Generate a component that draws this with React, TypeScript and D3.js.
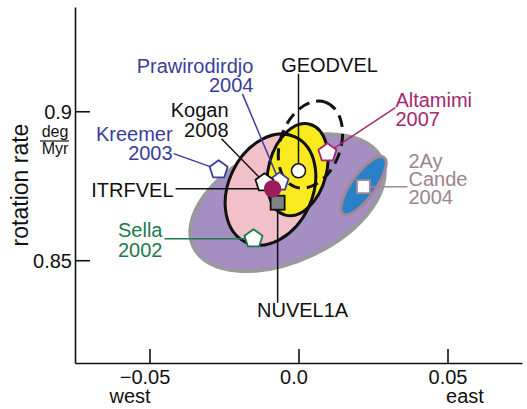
import React, { useEffect, useRef } from 'react';
import * as d3 from 'd3';

// error ellipses: centre (east rate, rotation rate), semi-axes, azimuth of major axis (deg ccw from east)
const ellipseNames = ['Sella 2002', 'Cande 2004', 'ITRFVEL', 'GEODVEL', 'Altamimi 2007'];
const ellipseX = [-0.0037, 0.0218, -0.0094, -0.0003, 0.0040];
const ellipseY = [0.8693, 0.8750, 0.8737, 0.8804, 0.8888];
const ellipseMajor = [0.0349, 0.0117, 0.0195, 0.0158, 0.0151];
const ellipseMinor = [0.0195, 0.0040, 0.0141, 0.0097, 0.0101];
const ellipseAzimuth = [25, 54, 65, 75, 70];

// pole estimates
const modelNames = ['NUVEL1A', 'ITRFVEL', 'GEODVEL', 'Kreemer 2003', 'Prawirodirdjo 2004', 'Kogan 2008', 'Sella 2002', 'Altamimi 2007', 'Cande 2004'];
const modelX = [-0.0070, -0.0087, 0.0000, -0.0268, -0.0064, -0.0114, -0.0151, 0.0097, 0.0218];
const modelY = [0.8693, 0.8740, 0.8800, 0.8804, 0.8763, 0.8760, 0.8572, 0.8861, 0.8747];
const modelLabels = [['NUVEL1A'], ['ITRFVEL'], ['GEODVEL'], ['Kreemer', '2003'], ['Prawirodirdjo', '2004'], ['Kogan', '2008'], ['Sella', '2002'], ['Altamimi', '2007'], ['2Ay', 'Cande', '2004']];

// axis ticks
const xTicks = [-0.05, 0, 0.05];
const xTickLabels = ['\u22120.05', '0.0', '0.05'];
const yTicks = [0.85, 0.9];
const yTickLabels = ['0.85', '0.9'];

const ellipseStyle = {
  'Sella 2002': { fill: '#a58fc2', stroke: '#9a9a9a', width: 3.5, dash: null },
  'Cande 2004': { fill: '#2a80c6', stroke: '#a08896', width: 3, dash: null },
  'ITRFVEL': { fill: '#f2c0c8', stroke: '#111', width: 3, dash: null },
  'GEODVEL': { fill: '#f9ea20', stroke: '#111', width: 3, dash: null },
  'Altamimi 2007': { fill: 'none', stroke: '#111', width: 3, dash: '12,7' },
};

const markerStyle = {
  'NUVEL1A': { shape: 'square', fill: '#7f8282', stroke: '#111', text: '#111', size: 14 },
  'ITRFVEL': { shape: 'circle', fill: '#9b1d5d', stroke: '#9b1d5d', text: '#111', size: 8 },
  'GEODVEL': { shape: 'circle', fill: '#fff', stroke: '#111', text: '#111', size: 7 },
  'Kreemer 2003': { shape: 'pentagon', fill: '#fff', stroke: '#3a3d9c', text: '#3a3d9c', size: 9.5 },
  'Prawirodirdjo 2004': { shape: 'pentagon', fill: '#fff', stroke: '#3a3d9c', text: '#3a3d9c', size: 9.5 },
  'Kogan 2008': { shape: 'pentagon', fill: '#fff', stroke: '#111', text: '#111', size: 9.5 },
  'Sella 2002': { shape: 'pentagon', fill: '#fff', stroke: '#1d7a4e', text: '#1d7a4e', size: 9.5 },
  'Altamimi 2007': { shape: 'pentagon', fill: '#fff', stroke: '#a3286e', text: '#a3286e', size: 9.5 },
  'Cande 2004': { shape: 'square', fill: '#fff', stroke: '#a08896', text: '#9c8490', size: 13 },
};

// label placement, pixel offsets from the marker
const labelLayout = {
  'NUVEL1A': { tx: 25, ty: 114, anchor: 'middle', lx: 0, ly: 100, lh: 19 },
  'ITRFVEL': { tx: -99, ty: 8, anchor: 'end', lx: -97, ly: 0, lh: 19 },
  'GEODVEL': { tx: 31, ty: -99, anchor: 'middle', lx: 0, ly: -97, lh: 19 },
  'Kreemer 2003': { tx: -46, ty: -29, anchor: 'end', lx: -45, ly: -16, lh: 19 },
  'Prawirodirdjo 2004': { tx: -26, ty: -109, anchor: 'end', lx: -37, ly: -88, lh: 19 },
  'Kogan 2008': { tx: -36, ty: -66, anchor: 'end', lx: -43, ly: -44, lh: 20 },
  'Sella 2002': { tx: -91, ty: -2, anchor: 'end', lx: -89, ly: 0, lh: 20 },
  'Altamimi 2007': { tx: 68, ty: -46, anchor: 'start', lx: 68, ly: -45, lh: 19 },
  'Cande 2004': { tx: 45, ty: -19, anchor: 'start', lx: 44, ly: 0, lh: 18 },
};

const FONT = '"Liberation Sans", Arial, Helvetica, sans-serif';

function pentagon(r) {
  const pts = d3.range(5).map(i => {
    const a = -Math.PI / 2 + i * 2 * Math.PI / 5;
    return [r * Math.cos(a), r * Math.sin(a)];
  });
  return d3.line()(pts) + 'Z';
}

function App() {
  const svgRef = useRef(null);
  const width = 527;
  const height = 409;

  useEffect(() => {
    const svg = d3.select(svgRef.current);
    svg.selectAll('*').remove();

    const x = d3.scaleLinear().domain([-0.075, 0.075]).range([75, 522]);
    const y = d3.scaleLinear().domain([0.8155, 0.935]).range([363, 7]);
    const kx = x(1) - x(0);

    // ellipses: filled ones first, outlines of the overlapping pair after
    const ell = ellipseNames.map((n, i) => ({
      name: n, cx: x(ellipseX[i]), cy: y(ellipseY[i]),
      rx: ellipseMajor[i] * kx, ry: ellipseMinor[i] * kx, az: ellipseAzimuth[i],
    }));
    const gE = svg.append('g');
    const drawEllipse = (e, fill, stroke) => {
      const st = ellipseStyle[e.name];
      gE.append('ellipse')
        .attr('cx', e.cx).attr('cy', e.cy).attr('rx', e.rx).attr('ry', e.ry)
        .attr('transform', `rotate(${-e.az},${e.cx},${e.cy})`)
        .attr('fill', fill ? st.fill : 'none')
        .attr('stroke', stroke ? st.stroke : 'none')
        .attr('stroke-width', st.width)
        .attr('stroke-dasharray', st.dash);
    };
    drawEllipse(ell[0], true, true);
    drawEllipse(ell[1], true, true);
    drawEllipse(ell[2], true, false);
    drawEllipse(ell[3], true, false);
    drawEllipse(ell[2], false, true);
    drawEllipse(ell[3], false, true);
    drawEllipse(ell[4], false, true);

    const models = modelNames.map((n, i) => ({
      name: n, px: x(modelX[i]), py: y(modelY[i]), lines: modelLabels[i],
      st: markerStyle[n], lay: labelLayout[n],
    }));

    // leader lines
    svg.append('g').selectAll('line').data(models).enter().append('line')
      .attr('x1', d => d.px + d.lay.lx).attr('y1', d => d.py + d.lay.ly)
      .attr('x2', d => d.px).attr('y2', d => d.py)
      .attr('stroke', d => d.st.shape === 'circle' || d.name === 'NUVEL1A' ? '#111' : d.st.stroke)
      .attr('stroke-width', 1.5);

    // markers: pentagons below, squares and circles on top
    const gM = svg.append('g');
    const order = [...models].sort((a, b) => (a.st.shape === 'pentagon' ? 0 : 1) - (b.st.shape === 'pentagon' ? 0 : 1));
    order.forEach(d => {
      const st = d.st;
      if (st.shape === 'circle') {
        gM.append('circle').attr('cx', d.px).attr('cy', d.py).attr('r', st.size)
          .attr('fill', st.fill).attr('stroke', st.stroke).attr('stroke-width', 1.5);
      } else if (st.shape === 'square') {
        gM.append('rect').attr('x', d.px - st.size / 2).attr('y', d.py - st.size / 2)
          .attr('width', st.size).attr('height', st.size)
          .attr('fill', st.fill).attr('stroke', st.stroke).attr('stroke-width', 1.8);
      } else {
        gM.append('path').attr('d', pentagon(st.size))
          .attr('transform', `translate(${d.px},${d.py})`)
          .attr('fill', st.fill).attr('stroke', st.stroke).attr('stroke-width', 1.8)
          .attr('stroke-linejoin', 'round');
      }
    });

    // labels
    const gL = svg.append('g').attr('font-family', FONT).attr('font-size', 20);
    models.forEach(d => {
      const t = gL.append('text')
        .attr('x', d.px + d.lay.tx).attr('y', d.py + d.lay.ty)
        .attr('text-anchor', d.lay.anchor).attr('fill', d.st.text);
      d.lines.forEach((s, i) => {
        t.append('tspan').attr('x', d.px + d.lay.tx).attr('dy', i === 0 ? 0 : d.lay.lh).text(s);
      });
    });

    // axes
    const gx = svg.append('g').attr('transform', 'translate(0,363)')
      .call(d3.axisBottom(x).tickValues(xTicks).tickSizeInner(-14).tickSizeOuter(0)
        .tickFormat((v, i) => xTickLabels[i]));
    const gy = svg.append('g').attr('transform', 'translate(75,0)')
      .call(d3.axisLeft(y).tickValues(yTicks).tickSizeInner(-15).tickSizeOuter(0)
        .tickFormat((v, i) => yTickLabels[i]));
    [gx, gy].forEach(g => {
      g.select('.domain').attr('stroke', '#111').attr('stroke-width', 1.6);
      g.selectAll('.tick line').attr('stroke', '#111').attr('stroke-width', 1.6);
      g.selectAll('.tick text').attr('font-family', FONT).attr('font-size', 20).attr('fill', '#111');
    });
    gx.selectAll('.tick text').attr('y', 7).attr('dy', '0.71em').attr('dx', (v, i) => (i === 1 ? -5 : i === 0 ? -5 : 0));
    gy.selectAll('.tick text').attr('x', -3).attr('dy', '0.35em');

    const gT = svg.append('g').attr('font-family', FONT).attr('fill', '#111');
    gT.append('text').attr('x', 130).attr('y', 403).attr('text-anchor', 'middle').attr('font-size', 20).text('west');
    gT.append('text').attr('x', 465).attr('y', 403).attr('text-anchor', 'middle').attr('font-size', 20).text('east');
    gT.append('text').attr('transform', 'translate(28,185) rotate(-90)')
      .attr('text-anchor', 'middle').attr('font-size', 23).text('rotation rate');
    gT.append('text').attr('x', 55).attr('y', 137).attr('text-anchor', 'middle').attr('font-size', 16).text('deg');
    gT.append('line').attr('x1', 40).attr('x2', 69).attr('y1', 141).attr('y2', 141)
      .attr('stroke', '#111').attr('stroke-width', 1.2);
    gT.append('text').attr('x', 55).attr('y', 154).attr('text-anchor', 'middle').attr('font-size', 16).text('Myr');
  }, []);

  return (
    <svg ref={svgRef} width={width} height={height}
      style={{ position: 'absolute', left: 0, top: 0, background: '#fff' }} />
  );
}

export default App;
